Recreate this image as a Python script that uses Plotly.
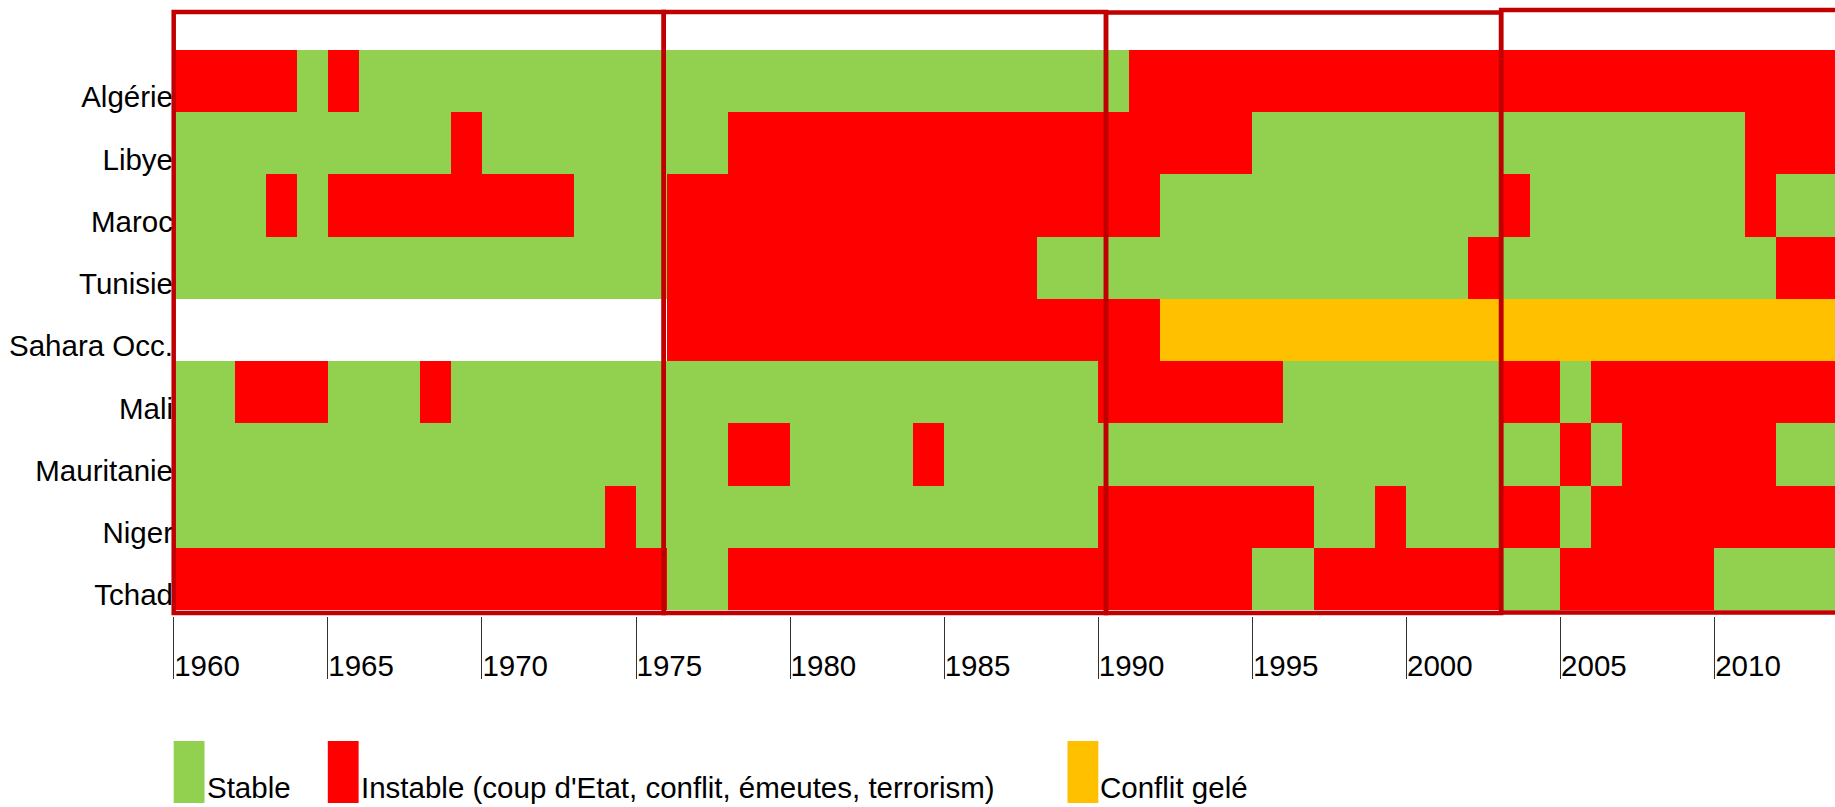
import plotly.graph_objects as go

# ---------------- data ----------------
start_year = 1960
end_year = 2013
countries = ["Algérie", "Libye", "Maroc", "Tunisie", "Sahara Occ.",
             "Mali", "Mauritanie", "Niger", "Tchad"]

# one code per year 1960..2013, grouped by decade
# S = Stable, I = Instable, G = Conflit gelé, N = no data
algerie    = "IIIISISSSS SSSSSSSSSS SSSSSSSSSS SIIIIIIIII IIIIIIIIII IIII"
libye      = "SSSSSSSSSI SSSSSSSSII IIIIIIIIII IIIIISSSSS SSSSSSSSSS SIII"
maroc      = "SSSISIIIII IIISSSIIII IIIIIIIIII IISSSSSSSS SSSISSSSSS SISS"
tunisie    = "SSSSSSSSSS SSSSSSIIII IIIIIIIISS SSSSSSSSSS SSISSSSSSS SSII"
sahara     = "NNNNNNNNNN NNNNNNIIII IIIIIIIIII IIGGGGGGGG GGGGGGGGGG GGGG"
mali       = "SSIIISSSIS SSSSSSSSSS SSSSSSSSSS IIIIIISSSS SSSIISIIII IIII"
mauritanie = "SSSSSSSSSS SSSSSSSSII SSSSISSSSS SSSSSSSSSS SSSSSISIII IISS"
niger      = "SSSSSSSSSS SSSSISSSSS SSSSSSSSSS IIIIIIISSI SSSIISIIII IIII"
tchad      = "IIIIIIIIII IIIIIISSII IIIIIIIIII IIIIISSIII IIISSIIIII SSSS"
series = [algerie, libye, maroc, tunisie, sahara, mali, mauritanie, niger, tchad]

tick_years = [1960, 1965, 1970, 1975, 1980, 1985, 1990, 1995, 2000, 2005, 2010]
tick_labels = [str(y) for y in tick_years]

legend_labels = ["Stable", "Instable (coup d'Etat, conflit, émeutes, terrorism)", "Conflit gelé"]
legend_years = [1960, 1965, 1989]

# period frames (year boundaries of the red boxes)
period_edges = [1960, 1975.9, 1990.25, 2003.07, 2020]

# ---------------- styles ----------------
GREEN = "#92D050"
RED = "#FF0000"
ORANGE = "#FFC000"
BOX = "#C00000"
FONT = "Liberation Sans, Arial, sans-serif"
FS = 29.5
code_value = {"S": 0, "I": 1, "G": 2, "N": None}
legend_colors = [GREEN, RED, ORANGE]
box_top_px = [12, 12, 12.5, 10]
box_bot_px = [613, 613, 613, 612.5]

n = len(countries)
row_y = list(range(n - 1, -1, -1))       # Algérie at top
z_rows = []
for cname, s in zip(countries, series):
    codes = s.replace(" ", "")
    assert len(codes) == end_year - start_year + 1, cname
    z_rows.append([code_value[c] for c in codes])
order = sorted(range(n), key=lambda i: row_y[i])
z = [z_rows[i] for i in order]
y_sorted = [row_y[i] for i in order]

colorscale = [[0, GREEN], [0.25, GREEN], [0.25, RED], [0.75, RED],
              [0.75, ORANGE], [1, ORANGE]]

fig = go.Figure()
fig.add_trace(go.Heatmap(
    z=z, x0=start_year + 0.5, dx=1, y=y_sorted,
    zmin=0, zmax=2, colorscale=colorscale, showscale=False,
    hoverinfo="skip", xgap=0, ygap=0,
))

# ---------------- geometry (page pixels) ----------------
W, H = 1835, 807
plot_left = 170
plot_bottom = 616
ml, mr, mt = plot_left, 0, 0
mb = H - plot_bottom
px_year = 30.82
x0_px = 173.7                 # page x of year 1960
row_px = 62.22
heat_top, heat_bot = 50, 610
plot_h = H - mt - mb
x_start = start_year - (x0_px - plot_left) / px_year
x_end = x_start + (W - ml - mr) / px_year
y_bot = -0.5 - (plot_bottom - heat_bot) / row_px
y_top = (n - 0.5) + (heat_top - mt) / row_px

def y_from_px(p):
    return -0.5 + (heat_bot - p) / row_px

# red period boxes
for a, b, t, bt in zip(period_edges[:-1], period_edges[1:], box_top_px, box_bot_px):
    fig.add_shape(type="rect", xref="x", yref="y", x0=a, x1=b,
                  y0=y_from_px(bt), y1=y_from_px(t),
                  line=dict(color=BOX, width=4.5), fillcolor="rgba(0,0,0,0)",
                  layer="above")

# legend swatches (one cell wide) and labels
sw_top, sw_bot = 741, 803
sw_y1 = (plot_bottom - sw_top) / plot_h
sw_y0 = (plot_bottom - sw_bot) / plot_h
for lab, yr, col in zip(legend_labels, legend_years, legend_colors):
    fig.add_shape(type="rect", xref="x", yref="paper", x0=yr, x1=yr + 1,
                  y0=sw_y0, y1=sw_y1, line=dict(width=0), fillcolor=col)
    fig.add_annotation(x=yr + 1, y=sw_y0, xref="x", yref="paper",
                       xanchor="left", yanchor="bottom", text=lab,
                       showarrow=False, xshift=0, yshift=-3,
                       font=dict(family=FONT, size=FS, color="black"))

fig.update_layout(
    width=W, height=H,
    margin=dict(l=ml, r=mr, t=mt, b=mb, pad=0),
    plot_bgcolor="white", paper_bgcolor="white",
    showlegend=False,
    font=dict(family=FONT, size=FS, color="black"),
)
fig.update_xaxes(
    range=[x_start, x_end], tickmode="array", tickvals=tick_years,
    ticktext=tick_labels, ticks="outside", ticklen=62, tickwidth=1,
    tickcolor="#333333", showgrid=False, zeroline=False, showline=False,
    ticklabelposition="outside right", ticklabelstandoff=24,
    tickfont=dict(family=FONT, size=FS, color="black"),
)
fig.update_yaxes(
    range=[y_bot, y_top], tickmode="array", tickvals=row_y,
    ticktext=countries, ticks="", showgrid=False, zeroline=False,
    showline=False, ticklabelshift=16, ticklabelstandoff=-4,
    tickfont=dict(family=FONT, size=FS, color="black"),
)

fig.write_html(
    "out.html",
    config={"displayModeBar": False},
    post_script="document.body.style.margin='0px';document.body.style.overflow='hidden';",
)
